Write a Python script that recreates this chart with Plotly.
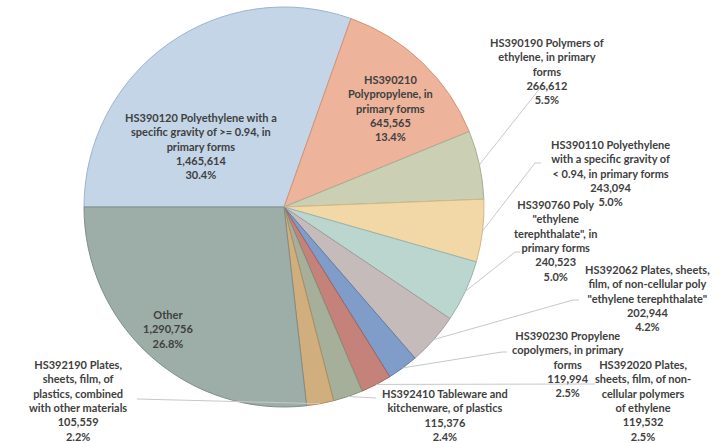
import numpy as np
import plotly.graph_objects as go

W, H = 720, 443

# ---- data (clockwise from 9 o'clock) ----
names = [
    "HS390120 Polyethylene with a<br>specific gravity of &gt;= 0.94, in<br>primary forms",
    "HS390210<br>Polypropylene, in<br>primary forms",
    "HS390190 Polymers of<br>ethylene, in primary<br>forms",
    "HS390110 Polyethylene<br>with a specific gravity of<br>&lt; 0.94, in primary forms",
    "HS390760 Poly<br>\"ethylene<br>terephthalate\", in<br>primary forms",
    "HS392062 Plates, sheets,<br>film, of non-cellular poly<br>\"ethylene terephthalate\"",
    "HS390230 Propylene<br>copolymers, in primary<br>forms",
    "HS392020 Plates,<br>sheets, film, of non-<br>cellular polymers<br>of ethylene",
    "HS392410 Tableware and<br>kitchenware, of plastics",
    "HS392190 Plates,<br>sheets, film, of<br>plastics, combined<br>with other materials",
    "Other",
]
values = [1465614, 645565, 266612, 243094, 240523, 202944,
          119994, 119532, 115376, 105559, 1290756]
colors = ["#C3D5E7", "#EDB39B", "#CBD0B4", "#F2D8A6", "#BBD5CF", "#C6BBBB",
          "#7F9DC8", "#C4827A", "#A5AF9A", "#D1AE7E", "#9DAEA8"]
edge_colors = ["#9FB4C9", "#D0947C", "#A9AE92", "#D3B886", "#99B3AD", "#A69B9B",
               "#5E7DA8", "#A2625B", "#84907A", "#B08E60", "#7D8E88"]

# ---- pie geometry (pixels) ----
cx, cy, R = 284, 207, 200
start_angle = 270  # degrees clockwise from 12 o'clock

# label centres (pixels), and leader-line label ends (None = inside label)
label_pos = [(201, 146), (390, 108), (547, 71), (610, 173), (555, 240), (647, 298),
             (568, 364), (643, 400), (445, 415), (78, 400), (168, 329)]
leader_end = [None, None, [(541, 87)], [(535, 163), (541, 163)],
              [(515, 252), (520, 252)], [(573, 300), (579, 300)],
              [(502, 352), (507, 352)], [(595, 384)], [(376, 398)],
              [(137, 399)], None]

total = sum(values)

def px(x):
    return x / W

def py(y):
    return 1 - y / H

fig = go.Figure(go.Pie(
    values=values,
    sort=False,
    direction="clockwise",
    rotation=start_angle,
    marker=dict(colors=colors, line=dict(color=edge_colors, width=1)),
    textinfo="none",
    hoverinfo="skip",
    showlegend=False,
    domain=dict(x=[px(cx - R), px(cx + R)], y=[py(cy + R), py(cy - R)]),
))

annotations = []
shapes = []
cum = 0
for name, v, pos, lead in zip(names, values, label_pos, leader_end):
    mid = np.radians(start_angle + (cum + v / 2) / total * 360)
    cum += v
    txt = f"{name}<br>{v:,}<br>{v / total * 100:.1f}%"
    annotations.append(dict(
        x=px(pos[0]), y=py(pos[1]), xref="paper", yref="paper",
        text=txt, showarrow=False, align="center",
        xanchor="center", yanchor="middle",
        font=dict(family="Lato", size=11, color="#404040", weight="bold"),
    ))
    if lead:
        ex, ey = cx + R * np.sin(mid), cy - R * np.cos(mid)
        pts = [(ex, ey)] + lead
        path = "M " + " L ".join(f"{px(a):.5f},{py(b):.5f}" for a, b in pts)
        shapes.append(dict(type="path", path=path, xref="paper", yref="paper",
                           line=dict(color="#C8C8C8", width=1)))

fig.update_layout(
    width=W, height=H,
    margin=dict(l=0, r=0, t=0, b=0),
    paper_bgcolor="white",
    plot_bgcolor="white",
    annotations=annotations,
    shapes=shapes,
)

fig.write_html("out.html", config={"displayModeBar": False},
               post_script="document.body.style.margin='0';")
